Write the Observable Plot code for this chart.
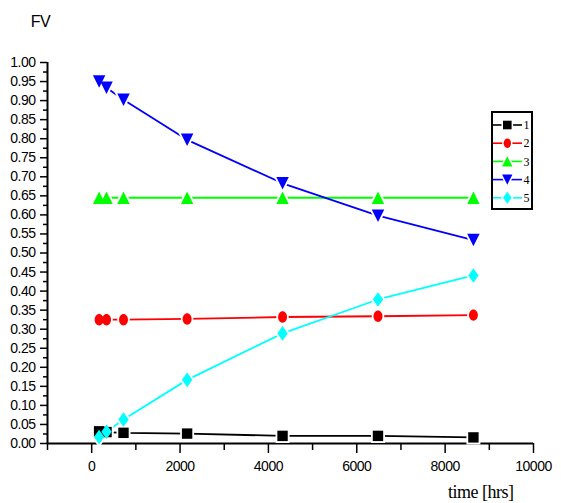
<!DOCTYPE html>
<html><head><meta charset="utf-8">
<script src="https://cdn.jsdelivr.net/npm/d3@7"></script>
<script src="https://cdn.jsdelivr.net/npm/@observablehq/plot@0.6"></script>
<style>
body{margin:0;background:#fff}
#wrap{position:relative;width:561px;height:503px}
#legend{position:absolute;left:491px;top:111px}
</style>
</head><body><div id="wrap"></div>
<script>
// ---- data ----
const time = [168, 336, 720, 2160, 4320, 6480, 8640];
const s1 = [0.032, 0.030, 0.028, 0.026, 0.020, 0.020, 0.016];
const s2 = [0.325, 0.325, 0.325, 0.327, 0.332, 0.334, 0.337];
const s3 = [0.645, 0.645, 0.645, 0.645, 0.645, 0.645, 0.645];
const s4 = [0.950, 0.934, 0.902, 0.797, 0.683, 0.598, 0.534];
const s5 = [0.017, 0.031, 0.063, 0.167, 0.289, 0.378, 0.441];
const seriesNames = ["1", "2", "3", "4", "5"];
const seriesColors = ["#000000", "#ff0000", "#00ff00", "#0000ff", "#00ffff"];
const xMajorTicks = [0, 2000, 4000, 6000, 8000, 10000];
const xMinorTicks = [-1000, 1000, 3000, 5000, 7000, 9000];
const yMajorTicks = d3.range(21).map(i => +(i * 0.05).toFixed(2));
const yMinorTicks = d3.range(20).map(i => +(0.025 + i * 0.05).toFixed(3));
const yLabel = "FV";
const xLabel = "time [hrs]";

// ---- marker shapes (k = r/5) ----
function mk(fn) { return {draw(ctx, size) { const k = Math.sqrt(size / Math.PI) / 5; fn(ctx, k); }}; }
const squareSym = mk((c, k) => { c.moveTo(-5*k, -5*k); c.lineTo(5*k, -5*k); c.lineTo(5*k, 5*k); c.lineTo(-5*k, 5*k); c.closePath(); });
const ellipseSym = mk((c, k) => {
  const rx = 4.3*k, ry = 5.5*k, m = 0.5523;
  c.moveTo(0, -ry);
  c.bezierCurveTo(m*rx, -ry, rx, -m*ry, rx, 0);
  c.bezierCurveTo(rx, m*ry, m*rx, ry, 0, ry);
  c.bezierCurveTo(-m*rx, ry, -rx, m*ry, -rx, 0);
  c.bezierCurveTo(-rx, -m*ry, -m*rx, -ry, 0, -ry);
  c.closePath();
});
const triUpSym = mk((c, k) => { c.moveTo(0, -6*k); c.lineTo(6*k, 6*k); c.lineTo(-6*k, 6*k); c.closePath(); });
const triDownSym = mk((c, k) => { c.moveTo(-6*k, -6*k); c.lineTo(6*k, -6*k); c.lineTo(0, 6*k); c.closePath(); });
const diamondSym = mk((c, k) => { c.moveTo(0, -7*k); c.lineTo(5*k, 0); c.lineTo(0, 7*k); c.lineTo(-5*k, 0); c.closePath(); });
const seriesSymbols = [squareSym, ellipseSym, triUpSym, triDownSym, diamondSym];

const seriesValues = [s1, s2, s3, s4, s5];
const rows = [];
seriesValues.forEach((vals, si) => vals.forEach((v, i) => rows.push({time: time[i], value: v, series: seriesNames[si]})));

const lines = seriesNames.map((s, si) => Plot.line(rows.filter(d => d.series === s), {x: "time", y: "value", stroke: seriesColors[si], strokeWidth: 1.8}));
const halos = seriesNames.map((s, si) => Plot.dot(rows.filter(d => d.series === s), {x: "time", y: "value", symbol: seriesSymbols[si], r: 5, fill: "white", stroke: "white", strokeWidth: 4}));
const dots = seriesNames.map((s, si) => Plot.dot(rows.filter(d => d.series === s), {x: "time", y: "value", symbol: seriesSymbols[si], r: 5.2, fill: seriesColors[si], stroke: "none"}));

const chart = Plot.plot({
  width: 561, height: 503,
  marginLeft: 47, marginRight: 28, marginTop: 62, marginBottom: 60,
  style: {fontFamily: "'Liberation Sans', Arial, sans-serif", fontSize: "14px", letterSpacing: "-0.5px", background: "#fff", color: "#000"},
  x: {domain: [-1000, 10000], label: null},
  y: {domain: [0, 1], label: null},
  marks: [
    Plot.axisX({ticks: xMajorTicks, tickSize: 10, tickPadding: 8, tickFormat: d3.format("d"), label: null, strokeWidth: 1.5}),
    Plot.axisX({ticks: xMinorTicks, tickSize: 7, tickFormat: () => "", label: null, strokeWidth: 1.5}),
    Plot.axisY({ticks: yMajorTicks, tickSize: 7, tickPadding: 5, tickFormat: d3.format(".2f"), label: null, strokeWidth: 1.5}),
    Plot.axisY({ticks: yMinorTicks, tickSize: 4, tickFormat: () => "", label: null, strokeWidth: 1.5}),
    Plot.ruleX([-1000], {strokeWidth: 2}),
    Plot.ruleY([0], {strokeWidth: 2}),
    ...lines, ...halos, ...dots,
    Plot.text([yLabel], {frameAnchor: "top-left", dx: -7, dy: -41, textAnchor: "middle", lineAnchor: "middle", fontSize: 16, fontFamily: "'Liberation Sans', Arial, sans-serif"}),
    Plot.text([xLabel], {frameAnchor: "bottom-right", dx: -20, dy: 49, textAnchor: "end", lineAnchor: "middle", fontSize: 18, fontFamily: "'Liberation Serif', 'Times New Roman', serif"})
  ]
});
const wrap = document.getElementById("wrap");
wrap.appendChild(chart);

// ---- legend ----
const lg = d3.select(wrap).append("svg").attr("id", "legend").attr("width", 43).attr("height", 100);
lg.append("rect").attr("x", 1).attr("y", 1).attr("width", 40).attr("height", 97).attr("fill", "white").attr("stroke", "black").attr("stroke-width", 2);
seriesNames.forEach((s, i) => {
  const y = 14 + i * 18.2;
  const d = d3.symbol(seriesSymbols[i], Math.PI * 4.3 * 4.3)();
  lg.append("line").attr("x1", 2).attr("x2", 31).attr("y1", y).attr("y2", y).attr("stroke", seriesColors[i]).attr("stroke-width", 1.6);
  lg.append("path").attr("transform", `translate(16.3,${y})`).attr("d", d).attr("fill", "white").attr("stroke", "white").attr("stroke-width", 3);
  lg.append("path").attr("transform", `translate(16.3,${y})`).attr("d", d).attr("fill", seriesColors[i]);
  lg.append("text").attr("x", 32.5).attr("y", y).attr("dy", "0.35em").attr("font-family", "'Liberation Serif', 'Times New Roman', serif").attr("font-size", 12).text(s);
});
</script>
</body></html>
